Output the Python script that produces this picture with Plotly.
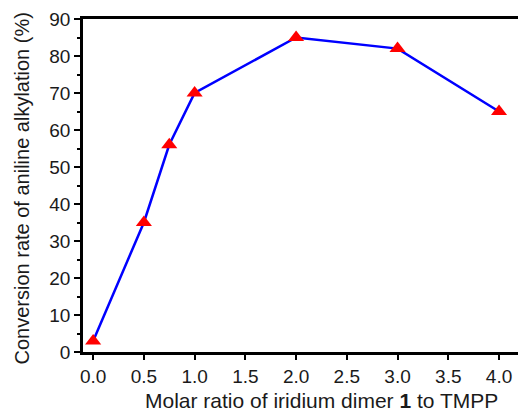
import plotly.graph_objects as go

ratio = [0.0, 0.5, 0.75, 1.0, 2.0, 3.0, 4.0]
conversion = [3, 35, 56, 70, 85, 82, 65]

x_ticks = [0.0, 0.5, 1.0, 1.5, 2.0, 2.5, 3.0, 3.5, 4.0]
x_tick_text = ["0.0", "0.5", "1.0", "1.5", "2.0", "2.5", "3.0", "3.5", "4.0"]
y_ticks = [0, 10, 20, 30, 40, 50, 60, 70, 80, 90]
x_title = "Molar ratio of iridium dimer <b>1</b> to TMPP"
y_title = "Conversion rate of aniline alkylation (%)"

fig = go.Figure()
fig.add_trace(go.Scatter(
    x=ratio, y=conversion, mode="lines+markers",
    line=dict(color="#0000ff", width=2.5),
    marker=dict(symbol="triangle-up", size=14, color="#ff0000", line=dict(width=0)),
    showlegend=False,
))

font = "Liberation Sans, Arial, sans-serif"
fig.update_layout(
    width=518, height=412,
    margin=dict(l=83, r=0, t=19, b=60),
    paper_bgcolor="white", plot_bgcolor="white",
    font=dict(family=font, color="#1a1a1a"),
    xaxis=dict(
        range=[-0.1, 4.187], tickvals=x_ticks, ticktext=x_tick_text,
        showgrid=False, zeroline=False,
        showline=True, linecolor="black", linewidth=2.5, mirror=True,
        ticks="outside", ticklen=5, tickwidth=2, tickcolor="black",
        tickfont=dict(size=19, family=font),
    ),
    yaxis=dict(
        range=[0, 90], tickvals=y_ticks,
        showgrid=False, zeroline=False,
        showline=True, linecolor="black", linewidth=2.5,
        ticks="outside", ticklen=6, tickwidth=2, tickcolor="black",
        minor=dict(ticks="outside", ticklen=3, tickwidth=1.5, tickcolor="black", dtick=5),
        tickfont=dict(size=19, family=font),
    ),
    annotations=[
        dict(text=x_title, xref="paper", yref="paper", x=0.549, y=0,
             xanchor="center", yanchor="middle", yshift=-48, showarrow=False,
             borderpad=0,
             font=dict(size=21, family=font, color="#1a1a1a")),
        dict(text=y_title, xref="paper", yref="paper", x=0, y=0.491,
             xanchor="center", yanchor="middle", xshift=-61, textangle=-90,
             showarrow=False, borderpad=0,
             font=dict(size=20, family=font, color="#1a1a1a")),
    ],
)

fig.write_html("out.html")
